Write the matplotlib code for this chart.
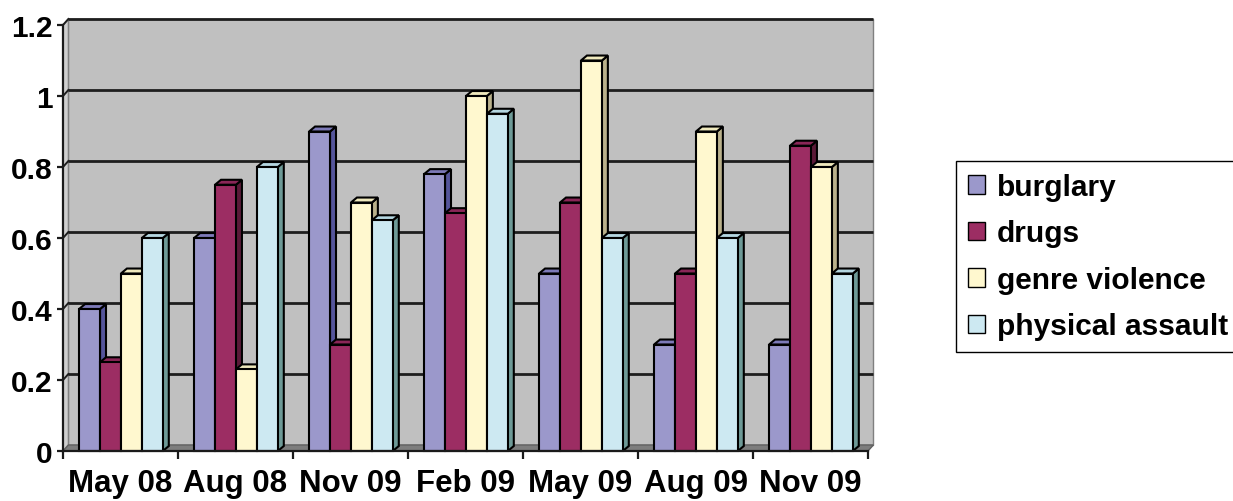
import matplotlib.pyplot as plt
from matplotlib.patches import Polygon, Rectangle, Patch
import numpy as np

plt.rcParams['font.family'] = ['Liberation Sans', 'DejaVu Sans']
plt.rcParams['font.weight'] = 'bold'

# survey rounds and rates per offence type
periods = ["May 08", "Aug 08", "Nov 09", "Feb 09", "May 09", "Aug 09", "Nov 09"]
burglary = [0.40, 0.60, 0.90, 0.78, 0.50, 0.30, 0.30]
drugs = [0.25, 0.75, 0.30, 0.67, 0.70, 0.50, 0.86]
genre_violence = [0.50, 0.23, 0.70, 1.00, 1.10, 0.90, 0.80]
physical_assault = [0.60, 0.80, 0.65, 0.95, 0.60, 0.60, 0.50]

series = [
    ("burglary", burglary, "#9b98cb", "#7d7ab8", "#55559b"),
    ("drugs", drugs, "#9c2d63", "#8a2657", "#5b1a38"),
    ("genre violence", genre_violence, "#fff8cf", "#efe9bd", "#bab18b"),
    ("physical assault", physical_assault, "#cde9f2", "#b4d6e0", "#6e9a97"),
]
yticks = [0, 0.2, 0.4, 0.6, 0.8, 1.0, 1.2]
ytick_labels = ["0", "0.2", "0.4", "0.6", "0.8", "1", "1.2"]

fig = plt.figure(figsize=(12.33, 5.02), dpi=100)
ax = fig.add_axes([63 / 1233, 50 / 502, 805 / 1233, 426 / 502])
ax.set_xlim(0, 7)
ax.set_ylim(0, 1.2)
ax.set_facecolor("none")

# depth of the 3d box (wall) and of the columns, in data units
wdx, wdy = 0.047, 0.017
bdx, bdy = 0.052, 0.014

# back wall, side wall and floor
ax.add_patch(Polygon([(wdx, wdy), (7 + wdx, wdy), (7 + wdx, 1.2 + wdy), (wdx, 1.2 + wdy)],
                     closed=True, facecolor="#c0c0c0", edgecolor="#808080", lw=1,
                     clip_on=False, zorder=0))
ax.add_patch(Polygon([(0, 0), (0, 1.2), (wdx, 1.2 + wdy), (wdx, wdy)],
                     closed=True, facecolor="#cfcfcf", edgecolor="#808080", lw=1,
                     clip_on=False, zorder=0))
ax.add_patch(Polygon([(0, 0), (7, 0), (7 + wdx, wdy), (wdx, wdy)],
                     closed=True, facecolor="#7d7d7d", edgecolor="#606060", lw=1,
                     clip_on=False, zorder=0.5))

# gridlines on the walls
for v in yticks[1:]:
    ax.plot([wdx, 7 + wdx], [v + wdy, v + wdy], color="#1e1e1e", lw=2.0,
            clip_on=False, zorder=0.3, solid_capstyle="butt")
    ax.plot([0, wdx], [v, v + wdy], color="#1e1e1e", lw=1.4, clip_on=False, zorder=0.3)

# 3d columns
bar_w = 0.182
start = 0.14
edge_lw = 1.5
for i in range(len(periods)):
    for j, (name, vals, face, top, side) in enumerate(series):
        x = i + start + j * bar_w
        h = vals[i]
        z = 2 + i * 10 + j
        ax.add_patch(Polygon([(x + bar_w, 0), (x + bar_w + bdx, bdy),
                              (x + bar_w + bdx, h + bdy), (x + bar_w, h)],
                             closed=True, facecolor=side, edgecolor="black", lw=edge_lw,
                             clip_on=False, zorder=z, joinstyle="miter"))
        ax.add_patch(Polygon([(x, h), (x + bar_w, h), (x + bar_w + bdx, h + bdy), (x + bdx, h + bdy)],
                             closed=True, facecolor=top, edgecolor="black", lw=edge_lw,
                             clip_on=False, zorder=z, joinstyle="miter"))
        ax.add_patch(Rectangle((x, 0), bar_w, h, facecolor=face, edgecolor="black",
                               lw=edge_lw, clip_on=False, zorder=z))

# axes lines and ticks
for s in ["top", "right"]:
    ax.spines[s].set_visible(False)
for s in ["left", "bottom"]:
    ax.spines[s].set_color("#1a1a1a")
    ax.spines[s].set_linewidth(1.6)
    ax.spines[s].set_zorder(100)

ax.set_yticks(yticks)
ax.set_yticklabels(ytick_labels)
ax.set_xticks(np.arange(0, 8))
ax.set_xticklabels([])
ax.set_xticks(np.arange(len(periods)) + 0.5, minor=True)
ax.set_xticklabels(periods, minor=True)
ax.tick_params(axis="y", direction="out", length=4.5, width=1.6, pad=3, labelsize=21.5, color="#1a1a1a")
ax.tick_params(axis="x", which="major", direction="out", length=6, width=1.6, color="#1a1a1a")
ax.tick_params(axis="x", which="minor", length=0, pad=12, labelsize=22.5)

handles = [Patch(facecolor=face, edgecolor="black", lw=1) for _, _, face, _, _ in series]
fig.legend(handles, [s[0] for s in series], loc="upper left",
           bbox_to_anchor=(956 / 1233, 1 - 162 / 502), fontsize=21.5,
           frameon=True, fancybox=False, edgecolor="black", framealpha=1,
           handlelength=0.58, handleheight=0.58, handletextpad=0.4,
           labelspacing=0.62, borderpad=0.4, borderaxespad=0)
fig.legends[0].get_frame().set_linewidth(1.0)

fig.savefig("out.png", dpi=100, facecolor="white")
